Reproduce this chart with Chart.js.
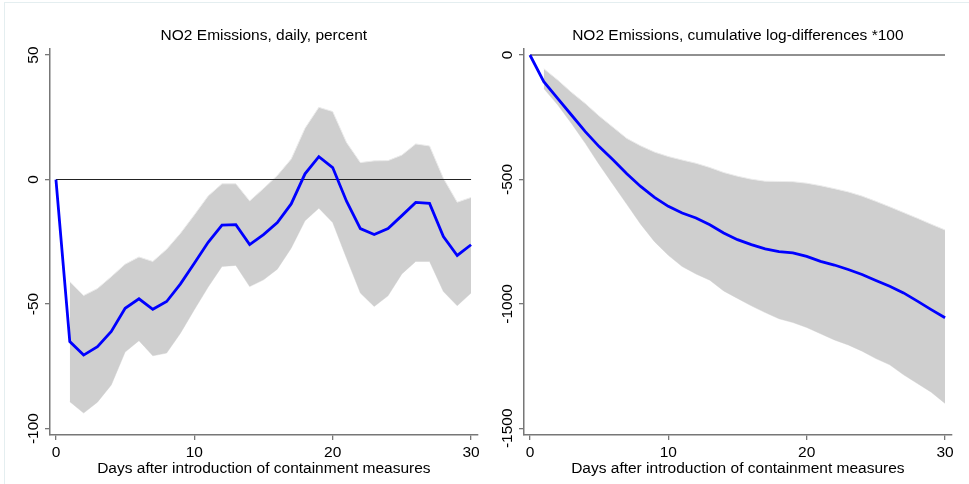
<!DOCTYPE html>
<html>
<head>
<meta charset="utf-8">
<script src="https://cdn.jsdelivr.net/npm/chart.js@4.4.1/dist/chart.umd.min.js"></script>
<style>
  html, body { margin: 0; padding: 0; background: #fff; }
  #wrap { position: relative; width: 969px; height: 484px; overflow: hidden; }
  canvas { position: absolute; top: 0; }
  #left { left: 0; }
  #right { left: 485px; }
  .edge-top { position: absolute; left: 4px; top: 2px; width: 965px; height: 1px; background: #e4eef0; }
  .edge-left { position: absolute; left: 4px; top: 2px; width: 1px; height: 482px; background: #e4eef0; }
</style>
</head>
<body>
<div id="wrap">
  <canvas id="left" width="485" height="484"></canvas>
  <canvas id="right" width="484" height="484"></canvas>
  <div class="edge-top"></div>
  <div class="edge-left"></div>
</div>
<script>
const days = [0, 1, 2, 3, 4, 5, 6, 7, 8, 9, 10, 11, 12, 13, 14, 15, 16, 17, 18, 19, 20, 21, 22, 23, 24, 25, 26, 27, 28, 29, 30];

// daily response, percent
const dailyIrf = [0, -65.1, -70.5, -67.1, -61.0, -51.7, -47.9, -52.1, -49.0, -41.9, -33.6, -25.2, -18.3, -18.1, -26.1, -22.1, -17.3, -9.8, 2.3, 9.2, 4.8, -8.7, -19.7, -22.1, -19.7, -14.5, -9.2, -9.6, -22.9, -30.5, -26.2];
const dailyUpper = [null, -41.0, -46.6, -43.8, -39.0, -34.0, -31.1, -32.9, -28.0, -21.6, -14.2, -6.6, -1.7, -1.7, -8.6, -3.6, 1.6, 8.2, 20.6, 29.0, 27.3, 14.9, 6.8, 7.5, 7.6, 9.8, 14.3, 13.5, 0.5, -9.1, -7.2];
const dailyLower = [null, -89.2, -93.8, -89.4, -82.5, -69.3, -64.7, -70.8, -69.7, -61.7, -52.3, -43.2, -34.9, -34.5, -43.0, -40.3, -36.0, -27.6, -16.6, -11.5, -17.3, -31.6, -45.6, -51.0, -46.7, -37.9, -32.9, -32.9, -45.0, -50.7, -45.6];

// cumulative log-differences *100
const cumIrf = [0, -107, -174, -241, -308, -368, -421, -477, -528, -572, -608, -635, -655, -682, -715, -742, -762, -779, -790, -795, -809, -829, -844, -862, -882, -906, -929, -956, -989, -1023, -1056];
const cumUpper = [null, -55, -100, -150, -195, -245, -290, -335, -365, -390, -408, -422, -435, -452, -472, -487, -499, -507, -508, -509, -515, -525, -537, -550, -567, -588, -610, -633, -656, -680, -703];
const cumLower = [null, -135, -200, -275, -355, -440, -520, -600, -680, -750, -805, -850, -880, -905, -948, -978, -1008, -1035, -1060, -1075, -1095, -1120, -1145, -1165, -1190, -1220, -1245, -1285, -1320, -1355, -1400];

const dayTicks = [0, 10, 20, 30];
const dailyTicks = [-100, -50, 0, 50];
const cumTicks = [-1500, -1000, -500, 0];
const refDays = [0, 30];
const refLevel = [0, 0];

const FONT = "'Liberation Sans', Arial, sans-serif";
const FONT_SIZE = 15.5;
const AXIS = '#777777';

function pts(xs, ys) {
  return xs.map((x, i) => ({ x: x, y: ys[i] }));
}

// panel title centred over the plot area, y labels rotated like Stata
const panelText = {
  id: 'panelText',
  afterDraw(chart, args, opts) {
    const { ctx, chartArea, scales } = chart;
    ctx.save();
    ctx.fillStyle = '#000';
    ctx.font = FONT_SIZE + 'px ' + FONT;
    ctx.textAlign = 'center';
    ctx.textBaseline = 'middle';
    ctx.fillText(opts.title, (chartArea.left + chartArea.right) / 2, opts.titleY);
    const y = scales.y;
    y.ticks.forEach(t => {
      const py = y.getPixelForValue(t.value);
      ctx.save();
      ctx.translate(chartArea.left - 16, py);
      ctx.rotate(-Math.PI / 2);
      ctx.fillText(String(t.value), 0, 0);
      ctx.restore();
    });
    ctx.restore();
  }
};

function makePanel(id, o) {
  return new Chart(document.getElementById(id), {
    type: 'line',
    data: {
      datasets: [
        { data: pts(days, o.irf), borderColor: '#0000ff', borderWidth: 2.8, pointRadius: 0, fill: false },
        { data: pts(refDays, refLevel), borderColor: '#222222', borderWidth: 1.2, pointRadius: 0, fill: false },
        { data: pts(days, o.upper), borderColor: '#ebebeb', borderWidth: 1, pointRadius: 0, backgroundColor: '#cfcfcf', fill: '+1' },
        { data: pts(days, o.lower), borderColor: '#ebebeb', borderWidth: 1, pointRadius: 0, fill: false }
      ]
    },
    options: {
      responsive: false,
      animation: false,
      events: [],
      layout: { padding: { top: 48.3, right: o.padRight, left: 0, bottom: 0 } },
      plugins: {
        legend: { display: false },
        tooltip: { enabled: false },
        panelText: { title: o.title, titleY: 36 }
      },
      scales: {
        x: {
          type: 'linear',
          min: -0.43,
          max: 30.48,
          afterBuildTicks: s => { s.ticks = dayTicks.map(v => ({ value: v })); },
          afterFit: s => { s.height = 49; },
          grid: { drawOnChartArea: false, tickLength: 5, color: AXIS, lineWidth: 1.3 },
          border: { color: AXIS, width: 1.5 },
          ticks: { color: '#000', font: { family: FONT, size: FONT_SIZE }, padding: 3, maxRotation: 0 },
          title: {
            display: true,
            text: 'Days after introduction of containment measures',
            color: '#000',
            font: { family: FONT, size: FONT_SIZE },
            padding: { top: 0, bottom: 6 }
          }
        },
        y: {
          type: 'linear',
          min: o.yMin,
          max: o.yMax,
          afterBuildTicks: s => { s.ticks = o.yTicks.map(v => ({ value: v })); },
          afterFit: s => { s.width = o.axisWidth; },
          grid: { drawOnChartArea: false, tickLength: 5, color: AXIS, lineWidth: 1.3 },
          border: { color: AXIS, width: 1.5 },
          ticks: { display: false }
        }
      }
    },
    plugins: [panelText]
  });
}

makePanel('left', {
  title: 'NO2 Emissions, daily, percent',
  irf: dailyIrf, upper: dailyUpper, lower: dailyLower,
  yTicks: dailyTicks, yMin: -102.6, yMax: 52.7,
  axisWidth: 50, padRight: 7.3
});

makePanel('right', {
  title: 'NO2 Emissions, cumulative log-differences *100',
  irf: cumIrf, upper: cumUpper, lower: cumLower,
  yTicks: cumTicks, yMin: -1527, yMax: 27,
  axisWidth: 39, padRight: 17.3
});
</script>
</body>
</html>
